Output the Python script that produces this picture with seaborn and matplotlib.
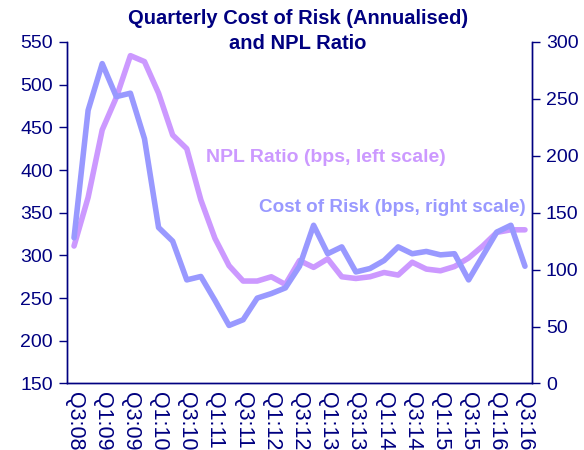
import numpy as np
import pandas as pd
import matplotlib
matplotlib.use("Agg")
import matplotlib.pyplot as plt
import seaborn as sns

# quarters Q3:08 .. Q3:16
quarters = ["Q3:08", "Q4:08", "Q1:09", "Q2:09", "Q3:09", "Q4:09", "Q1:10", "Q2:10",
            "Q3:10", "Q4:10", "Q1:11", "Q2:11", "Q3:11", "Q4:11", "Q1:12", "Q2:12",
            "Q3:12", "Q4:12", "Q1:13", "Q2:13", "Q3:13", "Q4:13", "Q1:14", "Q2:14",
            "Q3:14", "Q4:14", "Q1:15", "Q2:15", "Q3:15", "Q4:15", "Q1:16", "Q2:16",
            "Q3:16"]
# NPL ratio, bps (left scale)
npl = [311, 368, 447, 485, 534, 527, 490, 441, 425, 365, 320, 288, 270, 270, 275, 266,
       294, 286, 296, 275, 273, 275, 280, 277, 292, 284, 282, 287, 297, 311, 327, 330, 330]
# cost of risk, bps (right scale)
cor = [128, 240, 281, 252, 255, 215, 137, 125, 91, 94, 73, 51, 56, 75, 79, 84,
       103, 139, 114, 120, 98, 101, 108, 120, 114, 116, 113, 114, 91, 112, 133, 139, 103]

navy = "#000080"
npl_col = "#CC99FF"
cor_col = "#9999FF"

sns.set_style("white")
plt.rcParams["font.family"] = ["Liberation Sans", "DejaVu Sans"]

df = pd.DataFrame({"pos": np.arange(len(quarters)), "npl": npl, "cor": cor})

fig = plt.figure(figsize=(5.84, 4.5), dpi=100)
ax = fig.add_axes([0.1147, 0.1478, 0.7963, 0.7589])
ax2 = ax.twinx()

sns.lineplot(data=df, x="pos", y="npl", ax=ax, color=npl_col, lw=4, zorder=2)
sns.lineplot(data=df, x="pos", y="cor", ax=ax2, color=cor_col, lw=4, zorder=3)

ax.set_xlim(-0.5, len(quarters) - 0.5)
ax.set_ylim(150, 550)
ax2.set_ylim(0, 300)
ax.set_yticks(np.arange(150, 551, 50))
ax2.set_yticks(np.arange(0, 301, 50))

# tick marks on category boundaries, labels every other quarter
ax.set_xticks(np.arange(-0.5, len(quarters)), labels=[])
ax.set_xticks(np.arange(0, len(quarters), 2), minor=True)
ax.set_xticklabels(quarters[::2], minor=True, rotation=-90)

for a in (ax, ax2):
    a.set_xlabel("")
    a.set_ylabel("")
    for s in a.spines.values():
        s.set_color(navy)
        s.set_linewidth(1)
    a.spines["top"].set_visible(False)
    a.tick_params(colors=navy, labelcolor=navy, labelsize=14, length=6, width=1,
                  pad=4, which="both", direction="out")
    a.grid(False)
ax.tick_params(axis="x", which="major", length=5)
ax.tick_params(axis="x", which="minor", length=0, pad=6, labelsize=15.5)

ax.text(9.4, 415, "NPL Ratio (bps, left scale)", color=npl_col, fontsize=14,
        fontweight="bold", va="center", ha="left")
ax.text(13.1, 356, "Cost of Risk (bps, right scale)", color=cor_col, fontsize=13.6,
        fontweight="bold", va="center", ha="left")

fig.text(0.51, 0.98, "Quarterly Cost of Risk (Annualised)\nand NPL Ratio",
         ha="center", va="top", color=navy, fontsize=14.5, fontweight="bold",
         linespacing=1.4)

fig.savefig("out.png", dpi=100)
